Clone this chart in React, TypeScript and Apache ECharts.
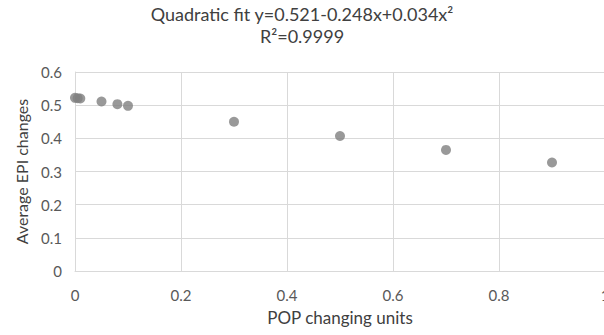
import React, { useEffect, useRef } from "react";
import * as echarts from "echarts";

const titleLines = ["Quadratic fit y=0.521-0.248x+0.034x²", "R²=0.9999"];
const xName = "POP changing units";
const yName = "Average EPI changes";
const popUnits = [0, 0.005, 0.01, 0.05, 0.08, 0.1, 0.3, 0.5, 0.7, 0.9];
const epiChanges = [0.522, 0.521, 0.520, 0.511, 0.503, 0.498, 0.450, 0.407, 0.365, 0.327];

const FONT = "Lato, 'Open Sans', sans-serif";

export default function App() {
  const ref = useRef<HTMLDivElement>(null);
  useEffect(() => {
    if (!ref.current) return;
    const chart = echarts.init(ref.current, undefined, { renderer: "svg" });
    chart.setOption({
      animation: false,
      backgroundColor: "#ffffff",
      title: {
        text: titleLines.join("\n"),
        left: "center",
        top: 1,
        padding: [2, 0, 5, 18],
        textStyle: {
          fontFamily: FONT,
          fontSize: 18,
          fontWeight: "normal",
          color: "#404040",
          lineHeight: 22,
        },
      },
      grid: { left: 75, right: -1, top: 72, bottom: 64, outerBoundsMode: "none" },
      xAxis: {
        type: "value",
        min: 0,
        max: 1,
        interval: 0.2,
        name: xName,
        nameLocation: "middle",
        nameGap: 38,
        nameTextStyle: { fontFamily: FONT, fontSize: 17, color: "#404040" },
        axisLine: { show: true, lineStyle: { color: "#d9d9d9" } },
        axisTick: { show: false },
        splitLine: { show: true, lineStyle: { color: "#d9d9d9" } },
        axisLabel: {
          fontFamily: FONT,
          fontSize: 15,
          color: "#595959",
          margin: 16,
          formatter: (v: number) => String(v),
        },
      },
      yAxis: {
        type: "value",
        min: 0,
        max: 0.6,
        interval: 0.1,
        name: yName,
        nameLocation: "middle",
        nameGap: 46,
        nameTextStyle: { fontFamily: FONT, fontSize: 16, color: "#404040" },
        axisLine: { show: true, lineStyle: { color: "#d9d9d9" } },
        axisTick: { show: false },
        splitLine: { show: true, lineStyle: { color: "#d9d9d9" } },
        axisLabel: {
          fontFamily: FONT,
          fontSize: 15,
          color: "#595959",
          margin: 13,
          formatter: (v: number) => String(Math.round(v * 10) / 10),
        },
      },
      series: [
        {
          type: "scatter",
          data: popUnits.map((x, i) => [x, epiChanges[i]]),
          symbol: "circle",
          symbolSize: 10,
          itemStyle: { color: "#7f7f7f" },
        },
      ],
    });
    return () => chart.dispose();
  }, []);
  return (
    <div
      ref={ref}
      style={{ position: "absolute", left: 0, top: 0, width: 604, height: 335 }}
    />
  );
}
